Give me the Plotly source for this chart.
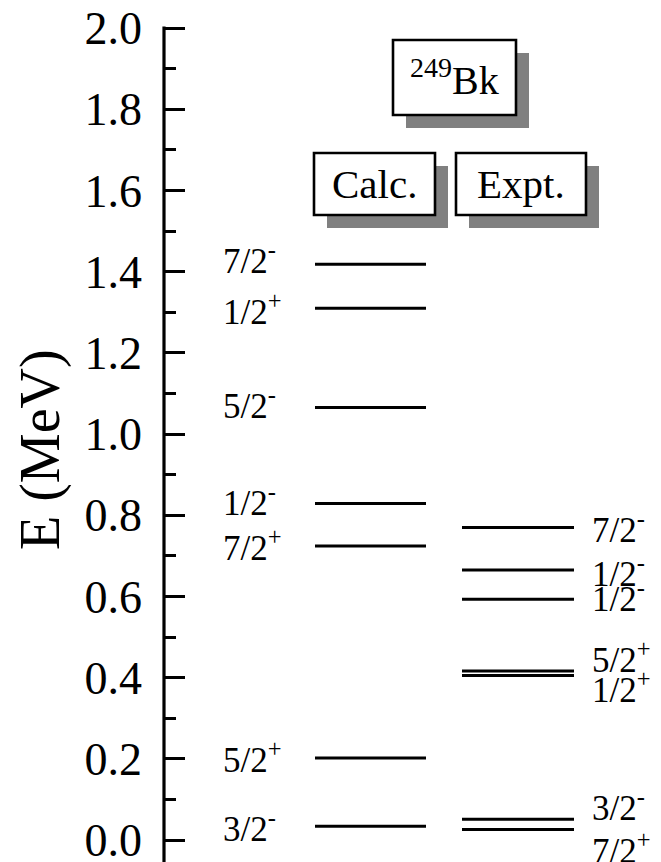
import plotly.graph_objects as go

# ---------------- data ----------------
calc_energy = [1.418, 1.310, 1.065, 0.829, 0.724, 0.202, 0.034]
calc_spin = ["7/2", "1/2", "5/2", "1/2", "7/2", "5/2", "3/2"]
calc_parity = ["-", "+", "-", "-", "+", "+", "-"]

expt_energy = [0.770, 0.665, 0.593, 0.416, 0.405, 0.051, 0.026]
expt_spin = ["7/2", "1/2", "1/2", "5/2", "1/2", "3/2", "7/2"]
expt_parity = ["-", "-", "-", "+", "+", "-", "+"]

y_ticks = [0.0, 0.2, 0.4, 0.6, 0.8, 1.0, 1.2, 1.4, 1.6, 1.8, 2.0]
y_tick_text = ["0.0", "0.2", "0.4", "0.6", "0.8", "1.0", "1.2", "1.4", "1.6", "1.8", "2.0"]

nucleus_mass = "249"
nucleus_symbol = "Bk"
column_titles = ["Calc.", "Expt."]
axis_title = "E (MeV)"

# ---------------- style / layout ----------------
W, H = 661, 862
OFF = 8  # page body margin: figure origin sits at (8, 8) on the page
FONT = "Liberation Serif"
PX_PER_MEV = 406.0
ZERO_PX = 840.0 - OFF  # figure pixel row of E = 0
y_range = [-(H - ZERO_PX) / PX_PER_MEV, ZERO_PX / PX_PER_MEV]

AXIS_X = 164
calc_x = (315, 426)
expt_x = (462, 574)
calc_label_x = 221
expt_label_x = 590
# label pixel offsets (downward) to separate close-lying labels
calc_label_down = [-3, 4, -1, 0, 2, 3, 3]
expt_label_down = [3, 4, 0, -11, 15, -11, 22]
LABEL_BASE_DOWN = -3
LABEL_SIZE = 35

def py(p):  # page pixel row -> paper fraction
    return 1 - (p - OFF) / H

fig = go.Figure()

for xs, energies in ((calc_x, calc_energy), (expt_x, expt_energy)):
    for e in energies:
        fig.add_trace(go.Scatter(
            x=[xs[0], xs[1]], y=[e, e], mode="lines",
            line=dict(color="black", width=3),
            hoverinfo="skip", showlegend=False))

annotations = []
for e, s, p, d in zip(calc_energy, calc_spin, calc_parity, calc_label_down):
    annotations.append(dict(
        x=calc_label_x, y=e, xref="x", yref="y", xanchor="left", yanchor="middle",
        text=f"{s}<sup>{p}</sup>", showarrow=False, yshift=-(d + LABEL_BASE_DOWN),
        font=dict(family=FONT, size=LABEL_SIZE, color="black")))
for e, s, p, d in zip(expt_energy, expt_spin, expt_parity, expt_label_down):
    annotations.append(dict(
        x=expt_label_x, y=e, xref="x", yref="y", xanchor="left", yanchor="middle",
        text=f"{s}<sup>{p}</sup>", showarrow=False, yshift=-(d + LABEL_BASE_DOWN),
        font=dict(family=FONT, size=LABEL_SIZE, color="black")))

# axis title
annotations.append(dict(
    x=40, y=py(450), xref="x", yref="paper", xanchor="center", yanchor="middle",
    text=axis_title, textangle=-90, showarrow=False,
    font=dict(family=FONT, size=56, color="black")))

shapes = []
# axis line from top tick to bottom
shapes.append(dict(type="line", xref="x", yref="y", x0=AXIS_X, x1=AXIS_X,
                   y0=y_range[0], y1=max(y_ticks) + 0.004,
                   line=dict(color="black", width=3.2)))

SH = 13
boxes = [
    ((393, 40, 516, 115), f"<sup>{nucleus_mass}</sup>{nucleus_symbol}", 40),
    ((314, 153, 435, 215), column_titles[0], 41),
    ((456, 153, 586, 215), column_titles[1], 41),
]
for (x0, y0, x1, y1), txt, fs in boxes:
    shapes.append(dict(type="rect", xref="x", yref="paper",
                       x0=x0 + SH, x1=x1 + SH, y0=py(y0 + SH), y1=py(y1 + SH),
                       fillcolor="#808080", line=dict(width=0), layer="above"))
    shapes.append(dict(type="rect", xref="x", yref="paper",
                       x0=x0, x1=x1, y0=py(y0), y1=py(y1),
                       fillcolor="white", line=dict(color="black", width=2.6), layer="above"))
    annotations.append(dict(
        x=(x0 + x1) / 2, y=py((y0 + y1) / 2), xref="x", yref="paper",
        xanchor="center", yanchor="middle", text=txt, showarrow=False,
        font=dict(family=FONT, size=fs, color="black")))

fig.update_layout(
    width=W, height=H, margin=dict(l=0, r=0, t=0, b=0, autoexpand=False),
    paper_bgcolor="white", plot_bgcolor="white",
    showlegend=False,
    xaxis=dict(range=[OFF, W + OFF], visible=False, fixedrange=True, automargin=False),
    yaxis=dict(
        range=y_range, anchor="free", position=(AXIS_X - OFF) / W, side="left",
        automargin=False,
        showline=False, showgrid=False, zeroline=False,
        tickmode="array", tickvals=y_ticks, ticktext=y_tick_text,
        ticks="inside", ticklen=20, tickwidth=3.2, tickcolor="black",
        ticklabelstandoff=22, ticklabeloverflow="allow",
        tickfont=dict(family=FONT, size=46, color="black"),
        minor=dict(tickmode="linear", tick0=0, dtick=0.1, ticks="inside",
                   ticklen=11, tickwidth=3.2, tickcolor="black", showgrid=False),
    ),
    shapes=shapes, annotations=annotations,
)

fig.write_html("out.html")
